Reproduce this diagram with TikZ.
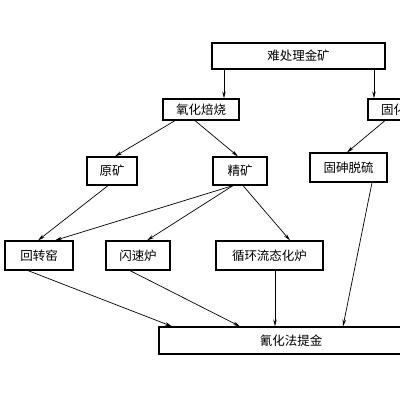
\documentclass[tikz,border=0pt]{standalone}
\usepackage{fontspec}
\newfontfamily\cjk{Noto Sans CJK SC}
\usetikzlibrary{arrows.meta}
\tikzset{
    >={Stealth[length=7pt,width=3.5pt]},
    block/.style={draw, line width=1.2pt, rectangle, inner sep=0pt, font=\cjk\fontsize{12.5}{14}\selectfont},
    flow/.style={->, line width=0.7pt},
}

\begin{document}
\begin{tikzpicture}[x=1pt, y=-1pt]
        \useasboundingbox (0,0) rectangle (400,400);
        \clip (0,0) rectangle (400,400);
        \node[block, minimum width=173pt, minimum height=26pt] (ore) at (298.5,56) {难处理金矿};
        \node[block, minimum width=76pt, minimum height=21pt] (oxroast) at (201,109.5) {氧化焙烧};
        \node[block, minimum width=76pt, minimum height=21pt] (fixroast) at (406,109.5) {固化焙烧};
        \node[block, minimum width=50pt, minimum height=28pt] (raw) at (112,171) {原矿};
        \node[block, minimum width=54pt, minimum height=28pt] (conc) at (240,171) {精矿};
        \node[block, minimum width=77pt, minimum height=29pt] (fixas) at (348.5,167.5) {固砷脱硫};
        \node[block, minimum width=68pt, minimum height=29pt] (kiln) at (39,255.5) {回转窑};
        \node[block, minimum width=64pt, minimum height=29pt] (flash) at (138,255.5) {闪速炉};
        \node[block, minimum width=107pt, minimum height=29pt] (cfb) at (269.5,255.5) {循环流态化炉};
        \node[block, minimum width=264pt, minimum height=27pt] (cyan) at (291,340.5) {氰化法提金};
        % first level
        \draw[flow] ([xshift=-74.5pt]ore.south) -- ([xshift=23pt]oxroast.north);
        \draw[flow] ([xshift=75.5pt]ore.south) -- ([xshift=-32pt]fixroast.north);
        % roasting
        \draw[flow] ([xshift=-26pt]oxroast.south) -- ([xshift=3pt]raw.north);
        \draw[flow] ([xshift=-6pt]oxroast.south) -- ([xshift=-2pt]conc.north);
        \draw[flow] ([xshift=-21pt]fixroast.south) -- ([xshift=-1.5pt]fixas.north);
        % furnaces
        \draw[flow] ([xshift=-4pt]raw.south) -- ([xshift=-1pt]kiln.north);
        \draw[flow] ([xshift=-7pt]conc.south) -- ([xshift=16pt]kiln.north);
        \draw[flow] ([xshift=-7pt]conc.south) -- ([xshift=9pt]flash.north);
        \draw[flow] ([xshift=3pt]conc.south) -- ([xshift=20.5pt]cfb.north);
        % cyanidation
        \draw[flow] ([xshift=-11pt]kiln.south) -- ([xshift=-119pt]cyan.north);
        \draw[flow] ([xshift=-8pt]flash.south) -- ([xshift=-51pt]cyan.north);
        \draw[flow] ([xshift=5.5pt]cfb.south) -- ([xshift=-16pt]cyan.north);
        \draw[flow] ([xshift=23.5pt]fixas.south) -- ([xshift=52pt]cyan.north);
    \end{tikzpicture}
\end{document}
